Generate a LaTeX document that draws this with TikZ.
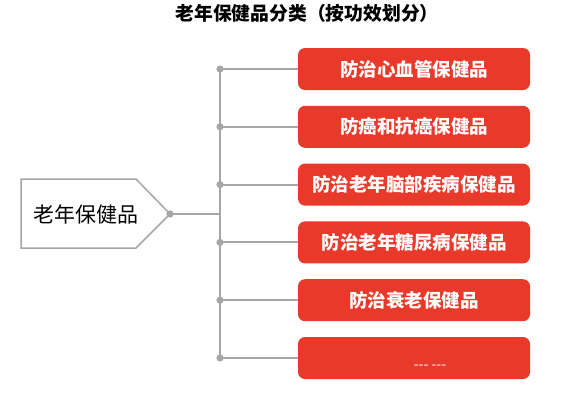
\documentclass[tikz,border=0pt]{standalone}
\usepackage{fontspec}
\newfontfamily\cjk{Noto Sans CJK SC}
\definecolor{boxred}{RGB}{233,57,43}
\definecolor{linegray}{RGB}{166,166,166}

\begin{document}
\begin{tikzpicture}[x=1pt, y=-1pt]
    \useasboundingbox (0,0) rectangle (561,413);
    \node[font=\cjk\bfseries\fontsize{18.8}{18.8}\selectfont, anchor=west] (title) at (172,13) {老年保健品分类（按功效划分）};
    % left box
    \draw[linegray, line width=1.5pt] (21,179) -- (136,179) -- (170,214) -- (136,248) -- (21,248) -- cycle;
    \coordinate (tip) at (170,214);
    \node[font=\cjk\fontsize{21}{21}\selectfont] (root) at (86,214) {老年保健品};
    \coordinate (spine) at (220,214);
    \coordinate (top) at (220,69);
    \coordinate (bot) at (220,358);
    \draw[linegray, line width=2pt] (tip) -- (spine);
    \draw[linegray, line width=2pt] (top) -- (bot);
    \foreach \t [count=\i] in {防治心血管保健品, 防癌和抗癌保健品, 防治老年脑部疾病保健品,
                               防治老年糖尿病保健品, 防治衰老保健品, {}} {
      \node[fill=boxred, rounded corners=7pt, minimum width=232pt, minimum height=42pt,
            text=white, font=\cjk\bfseries\fontsize{18.5}{18.5}\selectfont]
        (b\i) at (414, {69+57.8*(\i-1)}) {\t};
      \coordinate (d\i) at (220, {69+57.8*(\i-1)});
      \draw[linegray, line width=2pt] (d\i) -- (b\i.west);
      \fill[linegray] (d\i) circle (3.6pt);
    }
    \node[text=white, font=\cjk\fontsize{14}{14}\selectfont] (more) at (430,367) {-{}-{}- -{}-{}-};
    \fill[linegray] (tip) circle (3.6pt);
  \end{tikzpicture}
\end{document}
